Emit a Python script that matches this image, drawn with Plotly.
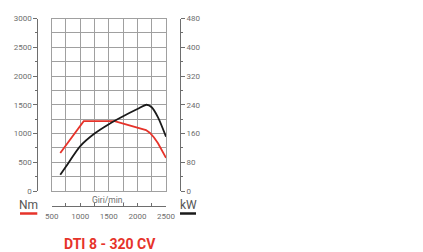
import plotly.graph_objects as go

# Data
torque_rpm = [650, 1060, 1600, 2150, 2220, 2290, 2360, 2430, 2500]
torque_nm = [660, 1215, 1215, 1060, 1010, 930, 830, 710, 575]
power_rpm = [650, 750, 1000, 1250, 1500, 1750, 2000, 2160, 2250, 2360, 2500]
power_kw = [45, 68, 125, 160, 186, 208, 228, 240, 233, 205, 151]
title_text = "DTI 8 - 320 CV"
rpm_title = "Giri/min."
left_unit = "Nm"
right_unit = "kW"

W, H = 423, 252
OFF = 8  # page body margin
def px(x):
    return (x - OFF) / W
def py(y):
    return 1 - (y - OFF) / H

xdom = [px(51.7), px(166)]
ydom = [py(191), py(18.5)]

RED = "#e6332a"
BLACK = "#1a1a1a"
GRID = "#a0a0a0"
AXC = "#6e6e6e"
TXT = "#6e6e6e"
FONT = "Roboto"

fig = go.Figure()
fig.add_trace(go.Scatter(x=[], y=[], xaxis="x", yaxis="y", showlegend=False, hoverinfo="skip"))
fig.add_trace(go.Scatter(x=torque_rpm, y=torque_nm, mode="lines", xaxis="x2", yaxis="y2",
                         line=dict(color=RED, width=1.8), showlegend=False))
fig.add_trace(go.Scatter(x=power_rpm, y=power_kw, mode="lines", xaxis="x2", yaxis="y3",
                         line=dict(color=BLACK, width=1.8, shape="spline", smoothing=0.8), showlegend=False))

tickfont = dict(family=FONT, size=8, color=TXT)

fig.update_layout(
    width=W, height=H, autosize=False,
    margin=dict(l=0, r=0, t=0, b=0),
    paper_bgcolor="white", plot_bgcolor="white",
    xaxis=dict(domain=xdom, anchor="y", range=[500, 2500], dtick=250, tick0=500,
               showgrid=True, gridcolor=GRID, gridwidth=1, showticklabels=False, ticks="",
               showline=True, mirror=True, linecolor=GRID, linewidth=1, zeroline=False,
               automargin=False),
    yaxis=dict(domain=ydom, anchor="x", range=[0, 3000], dtick=250, tick0=0,
               showgrid=True, gridcolor=GRID, gridwidth=1, showticklabels=False, ticks="",
               showline=True, mirror=True, linecolor=GRID, linewidth=1, zeroline=False,
               automargin=False),
    xaxis2=dict(overlaying="x", anchor="free", position=py(206), range=[500, 2500],
                tickmode="array", tickvals=[500, 1000, 1500, 2000, 2500],
                ticks="inside", ticklen=3, tickcolor=AXC, tickwidth=1, ticklabelstandoff=2,
                minor=dict(dtick=250, tick0=500, ticks="inside", ticklen=3, tickcolor=AXC, showgrid=False),
                showgrid=False, zeroline=False, showline=True, linecolor=AXC, linewidth=1,
                tickfont=tickfont, automargin=False),
    yaxis2=dict(overlaying="y", anchor="free", position=px(37.3), side="left", range=[0, 3000],
                tickmode="array", tickvals=[0, 500, 1000, 1500, 2000, 2500, 3000],
                ticks="outside", ticklen=4, tickcolor=AXC, tickwidth=1,
                minor=dict(dtick=250, tick0=0, ticks="outside", ticklen=2, tickcolor=AXC, showgrid=False),
                showgrid=False, zeroline=False, showline=True, linecolor=AXC, linewidth=1,
                tickfont=tickfont, automargin=False),
    yaxis3=dict(overlaying="y", anchor="free", position=px(180), side="right", range=[0, 480],
                tickmode="array", tickvals=[0, 80, 160, 240, 320, 400, 480],
                ticks="outside", ticklen=4, tickcolor=AXC, tickwidth=1,
                minor=dict(dtick=40, tick0=0, ticks="outside", ticklen=2, tickcolor=AXC, showgrid=False),
                showgrid=False, zeroline=False, showline=True, linecolor=AXC, linewidth=1,
                tickfont=tickfont, automargin=False),
)

annotations = [
    dict(text=rpm_title, x=px(108), y=py(200), xref="paper", yref="paper",
         showarrow=False, font=dict(family=FONT, size=8.5, color=TXT), xanchor="center", yanchor="middle"),
    dict(text=left_unit, x=px(28), y=py(205), xref="paper", yref="paper",
         showarrow=False, font=dict(family=FONT, size=12, color="#555555"), xanchor="center", yanchor="middle"),
    dict(text=right_unit, x=px(188), y=py(205), xref="paper", yref="paper",
         showarrow=False, font=dict(family=FONT, size=12, color="#555555"), xanchor="center", yanchor="middle"),
    dict(text="<b>" + title_text + "</b>", x=px(110), y=py(244), xref="paper", yref="paper",
         showarrow=False, font=dict(family=FONT, size=14, color=RED), xanchor="center", yanchor="middle"),
]
fig.update_layout(annotations=annotations)

shapes = [
    dict(type="line", xref="paper", yref="paper", x0=px(20), x1=px(37.3), y0=py(213.5), y1=py(213.5),
         line=dict(color=RED, width=2.5)),
    dict(type="line", xref="paper", yref="paper", x0=px(180), x1=px(196), y0=py(213.5), y1=py(213.5),
         line=dict(color=BLACK, width=2.5)),
]
fig.update_layout(shapes=shapes)

fig.write_html("out.html")
